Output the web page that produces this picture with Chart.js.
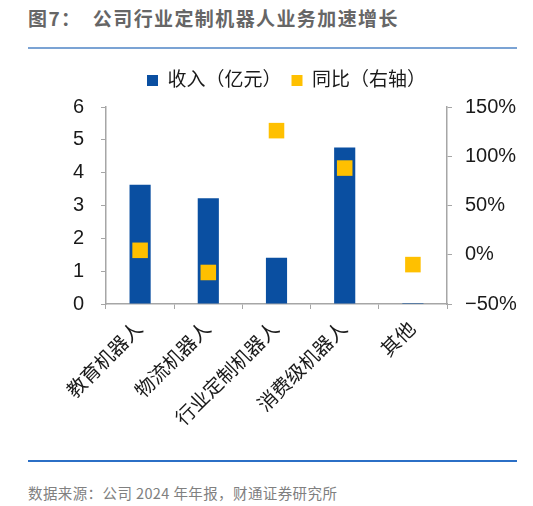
<!DOCTYPE html>
<html>
<head>
<meta charset="utf-8">
<script src="https://cdn.jsdelivr.net/npm/chart.js@4"></script>
<style>
  body { margin: 0; background: #fff; width: 533px; height: 506px; position: relative; overflow: hidden;
         font-family: "Liberation Sans", "Noto Sans CJK SC", sans-serif; }
  #title { position: absolute; left: 28px; top: 4px; font-size: 19px; font-weight: bold; color: #666;
           letter-spacing: 1.4px; font-family: "Noto Sans CJK SC", sans-serif; white-space: pre; }
  #topline { position: absolute; left: 28px; top: 47px; width: 489px; height: 2px; background: #7ba3d4; }
  #botline { position: absolute; left: 28px; top: 460px; width: 489px; height: 1.5px; background: #2b6fc6; }
  #source { position: absolute; left: 28px; top: 482px; font-size: 14.5px; color: #808080; letter-spacing: 0.4px;
            font-family: "Noto Sans CJK SC", sans-serif; white-space: pre; }
  #wrap { position: absolute; left: 40px; top: 55px; width: 493px; height: 400px; }
</style>
</head>
<body>
<div id="title">图7：  公司行业定制机器人业务加速增长</div>
<div id="topline"></div>
<div id="wrap"><canvas id="myChart"></canvas></div>
<div id="botline"></div>
<div id="source">数据来源：公司 2024 年年报，财通证券研究所</div>
<script>
let labels = ['教育机器人','物流机器人','行业定制机器人','消费级机器人','其他'];
let revenue = [3.63,3.22,1.41,4.77,0.03];
let yoy = [4.5,-18,126,88,-10];
let leftTicks = [0,1,2,3,4,5,6];
let rightTicks = [-50,0,50,100,150];

let axisGray = '#a6a6a6';
let fontFam = '"Liberation Sans", "Noto Sans CJK SC", sans-serif';

let legendHeight = {
  id:'legendHeight',
  beforeInit(chart){
    let fit = chart.legend.fit;
    chart.legend.fit = function(){
      fit.call(this);
      this.height = 46;
    };
  }
};

let ctx = document.getElementById('myChart').getContext('2d');
let chart = new Chart(ctx, {
  data:{
    labels:labels,
    datasets:[{
      type:'bar',
      label:'收入（亿元）',
      data:revenue,
      backgroundColor:'#0a4fa1',
      yAxisID:'y',
      barPercentage:0.31,
      categoryPercentage:1,
      order:1
    },{
      type:'line',
      label:'同比（右轴）',
      data:yoy,
      showLine:false,
      backgroundColor:'#ffc000',
      borderColor:'#ffc000',
      borderWidth:0,
      pointStyle:'rect',
      pointRadius:11,
      pointHoverRadius:11,
      pointBackgroundColor:'#ffc000',
      pointBorderWidth:0,
      yAxisID:'y1',
      order:0
    }]
  },
  plugins:[legendHeight],
  options:{
    responsive:true,
    maintainAspectRatio:false,
    animation:false,
    layout:{ padding:{ top:6, left:0, right:0, bottom:0 } },
    plugins:{
      legend:{
        display:true,
        position:'top',
        labels:{
          boxWidth:11,
          boxHeight:11,
          padding:10,
          color:'#1a1a1a',
          font:{ family:fontFam, size:19 },
          sort:(a, b) => a.datasetIndex - b.datasetIndex
        }
      },
      tooltip:{ enabled:false }
    },
    scales:{
      x:{
        grid:{ display:true, drawOnChartArea:false, drawTicks:true, tickLength:5, color:axisGray, offset:true },
        border:{ color:axisGray, width:1.5 },
        ticks:{ color:'#1a1a1a', minRotation:45, maxRotation:45, padding:9, font:{ family:fontFam, size:19.5 } },
        afterFit(scale){ scale.height = 151; }
      },
      y:{
        position:'left',
        min:0, max:6,
        afterBuildTicks(scale){ scale.ticks = leftTicks.map(v => ({value:v})); },
        grid:{ drawOnChartArea:false, drawTicks:true, tickLength:5, color:axisGray },
        border:{ color:axisGray, width:1.5 },
        ticks:{ color:'#1a1a1a', padding:17, font:{ family:fontFam, size:20 } },
        afterFit(scale){ scale.width = 66; }
      },
      y1:{
        position:'right',
        min:-50, max:150,
        afterBuildTicks(scale){ scale.ticks = rightTicks.map(v => ({value:v})); },
        grid:{ drawOnChartArea:false, drawTicks:true, tickLength:5, color:axisGray },
        border:{ color:axisGray, width:1.5 },
        ticks:{
          color:'#1a1a1a', padding:13, font:{ family:fontFam, size:20 },
          callback:(v) => (v < 0 ? '−' + Math.abs(v) : v) + '%'
        },
        afterFit(scale){ scale.width = 86; }
      }
    }
  }
});
</script>
</body>
</html>
